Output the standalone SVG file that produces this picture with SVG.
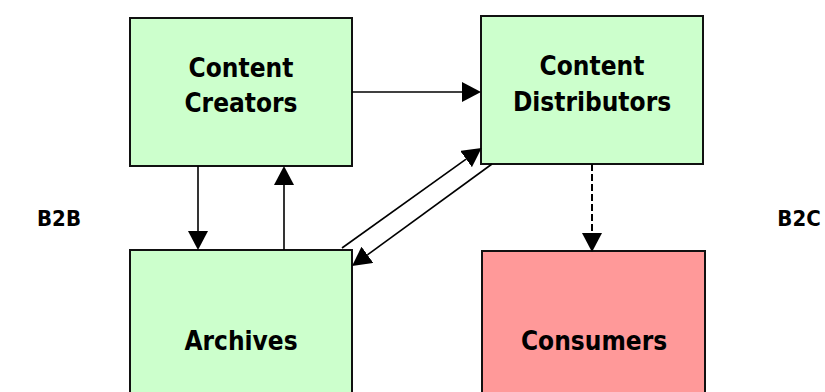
<svg xmlns="http://www.w3.org/2000/svg" width="825" height="392" viewBox="0 0 825 392">
  <style>
    .box { stroke: #111; stroke-width: 2; }
    .green { fill: #CCFFCC; }
    .red { fill: #FF9999; }
    .lbl { font-family: "DejaVu Sans Condensed", "DejaVu Sans", sans-serif; font-stretch: condensed; font-weight: bold; font-size: 26px; fill: #000; text-anchor: middle; }
    .side { font-family: "DejaVu Sans Condensed", "DejaVu Sans", sans-serif; font-stretch: condensed; font-weight: bold; font-size: 22px; fill: #000; text-anchor: middle; }
    .conn { stroke: #000; stroke-width: 1.6; fill: none; }
    .dash { stroke-width: 2; stroke-dasharray: 7 3; }
  </style>
  <defs>
    <marker id="head" viewBox="0 0 19 20" refX="0" refY="10" markerWidth="19" markerHeight="20" markerUnits="userSpaceOnUse" orient="auto">
      <path d="M0,0 L19,10 L0,20 Z" fill="#000" stroke="none"/>
    </marker>
  </defs>

  <g id="creators">
    <rect class="box green" x="130" y="18" width="222" height="148"/>
    <text class="lbl" x="241" y="77">Content</text>
    <text class="lbl" x="241" y="112">Creators</text>
  </g>
  <g id="distributors">
    <rect class="box green" x="481" y="16" width="222" height="148"/>
    <text class="lbl" x="592" y="75">Content</text>
    <text class="lbl" x="592" y="111">Distributors</text>
  </g>
  <g id="archives">
    <rect class="box green" x="130" y="250" width="222" height="160"/>
    <text class="lbl" x="241" y="350">Archives</text>
  </g>
  <g id="consumers">
    <rect class="box red" x="482" y="251" width="223" height="160"/>
    <text class="lbl" x="594" y="350">Consumers</text>
  </g>
  <g id="b2b">
    <text class="side" x="59" y="226">B2B</text>
  </g>
  <g id="b2c">
    <text class="side" x="799" y="226">B2C</text>
  </g>

  <g id="connectors">
    <line class="conn" x1="352" y1="92" x2="462" y2="92" marker-end="url(#head)"/>
    <line class="conn" x1="198" y1="166" x2="198" y2="231" marker-end="url(#head)"/>
    <line class="conn" x1="284" y1="250" x2="284" y2="185" marker-end="url(#head)"/>
    <line class="conn" x1="342" y1="248" x2="466.1" y2="159.1" marker-end="url(#head)"/>
    <line class="conn" x1="492" y1="164" x2="367.4" y2="254.8" marker-end="url(#head)"/>
    <line class="conn dash" x1="592" y1="164" x2="592" y2="233" marker-end="url(#head)"/>
  </g>
</svg>
